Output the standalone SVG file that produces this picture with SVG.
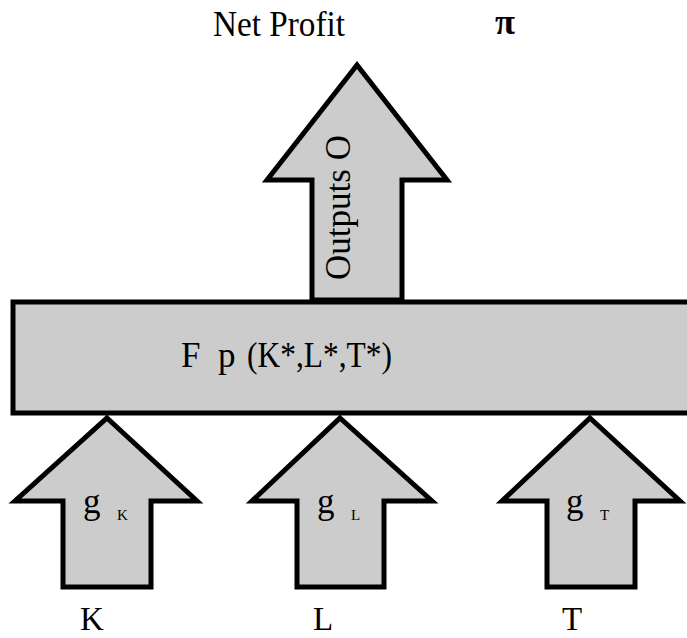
<svg xmlns="http://www.w3.org/2000/svg" width="687" height="638" viewBox="0 0 687 638">
<style>
.shape{fill:#cccccc;stroke:#000;stroke-width:5;stroke-linejoin:miter;stroke-miterlimit:10}
.t{font-family:"Liberation Serif","Times New Roman",serif;font-size:35px;fill:#000}
.b{font-family:"Liberation Serif","Times New Roman",serif;font-size:33px;fill:#000}
.s{font-family:"Liberation Serif","Times New Roman",serif;font-size:15px;fill:#000}
</style>
<rect width="687" height="638" fill="#fff"/>
<g id="title">
<text class="t" x="213" y="36" textLength="132" lengthAdjust="spacingAndGlyphs">Net Profit</text>
<text class="t" x="495" y="34" style="font-size:35px;font-weight:bold" textLength="20" lengthAdjust="spacingAndGlyphs">π</text>
</g>
<g id="outputs">
<polygon class="shape" points="357,65 447,180 402,180 402,300 312,300 312,180 267,180"/>
<text class="t" transform="translate(350,280) rotate(-90)" textLength="145" lengthAdjust="spacingAndGlyphs">Outputs O</text>
</g>
<g id="production">
<rect class="shape" x="13" y="302" width="690" height="111"/>
<text class="t" y="367"><tspan x="181">F</tspan><tspan x="218">p</tspan><tspan x="247" textLength="145" lengthAdjust="spacingAndGlyphs">(K*,L*,T*)</tspan></text>
</g>
<g id="connectors"></g>
<g id="input-K">
<polygon class="shape" points="107,418 197,501 151,501 151,587 63,587 63,501 15,501"/>
<text class="t" x="83" y="513">g</text>
<text class="s" x="117" y="520">K</text>
<text class="b" x="80" y="630">K</text>
</g>
<g id="input-L">
<polygon class="shape" points="340,418 432,501 384,501 384,587 297,587 297,501 252,501"/>
<text class="t" x="317" y="513">g</text>
<text class="s" x="351" y="520">L</text>
<text class="b" x="313" y="630">L</text>
</g>
<g id="input-T">
<polygon class="shape" points="590,418 680,501 635,501 635,587 547,587 547,501 502,501"/>
<text class="t" x="566" y="513">g</text>
<text class="s" x="600" y="520">T</text>
<text class="b" x="562" y="630">T</text>
</g>
</svg>
